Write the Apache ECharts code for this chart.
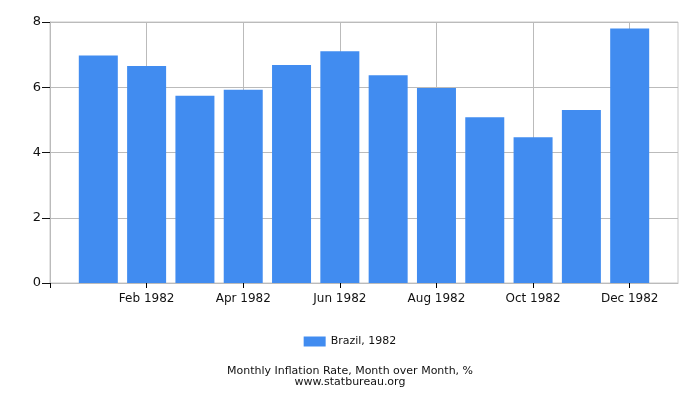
<!DOCTYPE html>
<html>
<head>
<meta charset="utf-8">
<script src="https://cdn.jsdelivr.net/npm/echarts@6/dist/echarts.min.js"></script>
<style>html,body{margin:0;padding:0;background:#fff;}#c{width:700px;height:400px;}</style>
</head>
<body>
<div id="c"></div>
<script>
var categories = ['Jan 1982','Feb 1982','Mar 1982','Apr 1982','May 1982','Jun 1982','Jul 1982','Aug 1982','Sep 1982','Oct 1982','Nov 1982','Dec 1982'];
var brazil1982 = [6.97, 6.65, 5.74, 5.92, 6.68, 7.10, 6.37, 5.98, 5.08, 4.47, 5.30, 7.80];
var seriesName = 'Brazil, 1982';
var chartTitle = 'Monthly Inflation Rate, Month over Month, %';
var chartSource = 'www.statbureau.org';

// padded axis: one empty slot before January and one after December
var axisData = [''].concat(categories, ['']);
var seriesData = ['-'].concat(brazil1982, ['-']);

var font = 'DejaVu Sans';
function evenSlot(i) { return i % 2 === 0 && i <= categories.length; }
var chart = echarts.init(document.getElementById('c'));
chart.setOption({
  animation: false,
  textStyle: {fontFamily: font},
  title: [
    {text: chartTitle, left: 'center', top: 361, textStyle: {fontFamily: font, fontSize: 11, fontWeight: 'normal', color: '#111'}},
    {text: chartSource, left: 'center', top: 372, textStyle: {fontFamily: font, fontSize: 11, fontWeight: 'normal', color: '#111'}}
  ],
  legend: {
    top: 331, left: 'center', itemWidth: 22, itemHeight: 10, itemGap: 5,
    textStyle: {fontFamily: font, fontSize: 11, color: '#111'},
    data: [{name: seriesName, icon: 'rect'}]
  },
  grid: {left: 50, right: 22, top: 22, bottom: 117, show: true, borderColor: '#c8c8c8', borderWidth: 1},
  xAxis: {
    type: 'category', data: axisData, boundaryGap: false,
    axisLine: {show: true, lineStyle: {color: '#bbb'}},
    axisTick: {show: true, inside: false, length: 5, interval: function (i) { return evenSlot(i); }, lineStyle: {color: '#000', width: 1}},
    axisLabel: {fontFamily: font, fontSize: 12, color: '#111', margin: 10, interval: function (i) { return evenSlot(i); }},
    splitLine: {show: true, interval: function (i) { return evenSlot(i); }, lineStyle: {color: '#bbb'}}
  },
  yAxis: {
    type: 'value', min: 0, max: 8, interval: 2,
    axisLine: {show: true, lineStyle: {color: '#bbb'}},
    axisTick: {show: true, length: 8, lineStyle: {color: '#111'}},
    axisLabel: {fontFamily: font, fontSize: 13, color: '#111', margin: 9},
    splitLine: {show: true, lineStyle: {color: '#bbb'}}
  },
  series: [{
    name: seriesName, type: 'bar', barWidth: 39,
    itemStyle: {color: '#418cf0'},
    data: seriesData
  }]
});
</script>
</body>
</html>
